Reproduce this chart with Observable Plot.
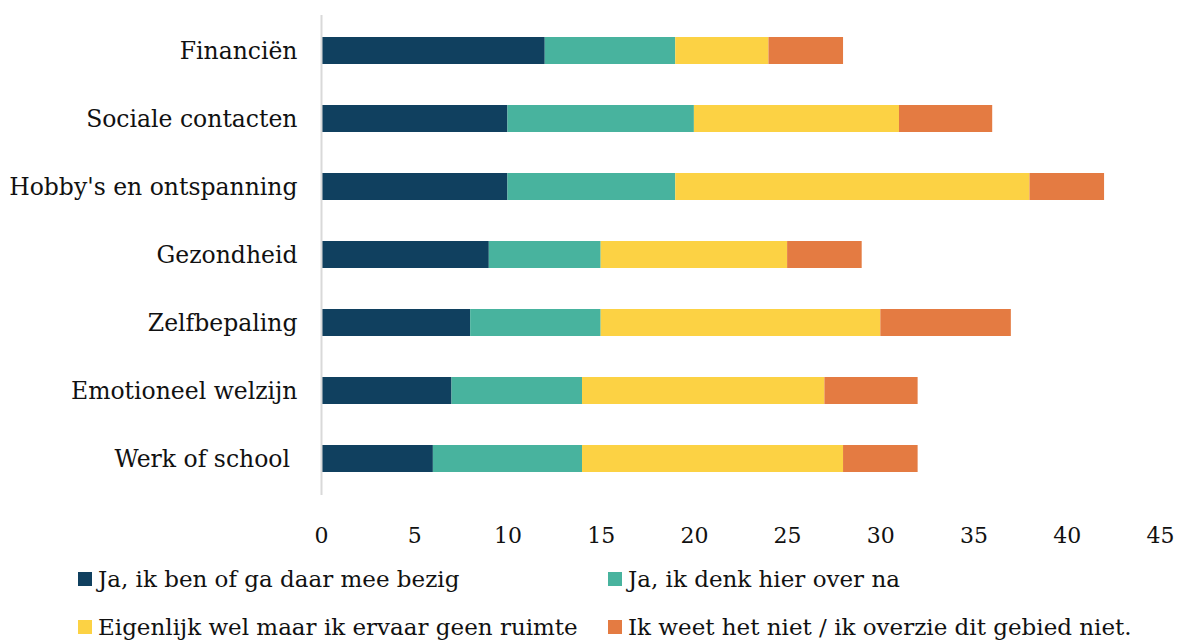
<!DOCTYPE html>
<html>
<head>
<meta charset="utf-8">
<script src="https://cdn.jsdelivr.net/npm/d3@7"></script>
<script src="https://cdn.jsdelivr.net/npm/@observablehq/plot@0.6"></script>
<style>
  body { margin: 0; background: #fff; font-family: "DejaVu Serif", "Liberation Serif", serif; }
  #chart svg { display: block; }
  .legend { display: grid; grid-template-columns: 530px 560px; padding-left: 78px; row-gap: 22px; margin-top: 11px; }
  .item { display: flex; align-items: center; font-size: 23px; color: #111; height: 26px; }
  .sw { width: 14px; height: 14px; margin-right: 6px; flex: none; }
</style>
</head>
<body>
<div id="chart"></div>
<div class="legend" id="legend"></div>
<script>
const categories = ["Financiën", "Sociale contacten", "Hobby's en ontspanning", "Gezondheid", "Zelfbepaling", "Emotioneel welzijn", "Werk of school"];
const series = ["Ja, ik ben of ga daar mee bezig", "Ja, ik denk hier over na", "Eigenlijk wel maar ik ervaar geen ruimte", "Ik weet het niet / ik overzie dit gebied niet."];
const bezig    = [12, 10, 10, 9, 8, 7, 6];
const denkOver = [7, 10, 9, 6, 7, 7, 8];
const geenRuimte = [5, 11, 19, 10, 15, 13, 14];
const weetNiet = [4, 5, 4, 4, 7, 5, 4];
const colors = ["#10405f", "#48b39e", "#fcd244", "#e47b42"];
const xTicks = [0, 5, 10, 15, 20, 25, 30, 35, 40, 45];

const valuesBySeries = [bezig, denkOver, geenRuimte, weetNiet];
const data = [];
categories.forEach((c, i) => {
  series.forEach((s, j) => data.push({category: c, series: s, value: valuesBySeries[j][i]}));
});

const chart = Plot.plot({
  width: 1178,
  height: 555,
  marginTop: 15,
  marginBottom: 60,
  marginLeft: 321,
  marginRight: 18,
  style: {fontFamily: "DejaVu Serif, Liberation Serif, serif", fontSize: "22px", color: "#111"},
  x: {domain: [0, 45], label: null},
  y: {domain: categories, paddingInner: 0.6, paddingOuter: 0.3, label: null},
  color: {domain: series, range: colors},
  marks: [
    Plot.axisX({ticks: xTicks, tickSize: 0, tickPadding: 32, fontSize: 22, label: null}),
    Plot.axisY({tickSize: 0, tickPadding: 24, fontSize: 23.5, label: null,
      tickFormat: d => d === "Werk of school" ? d + "\u00a0" : d}),
    Plot.barX(data, {x: "value", y: "category", fill: "series", order: series}),
    Plot.ruleX([0], {stroke: "#d9d9d9", strokeWidth: 2})
  ]
});
document.getElementById("chart").appendChild(chart);

const legend = document.getElementById("legend");
[0, 1, 2, 3].forEach(j => {
  const it = document.createElement("div");
  it.className = "item";
  it.innerHTML = `<span class="sw" style="background:${colors[j]}"></span><span>${series[j]}</span>`;
  legend.appendChild(it);
});
</script>
</body>
</html>
